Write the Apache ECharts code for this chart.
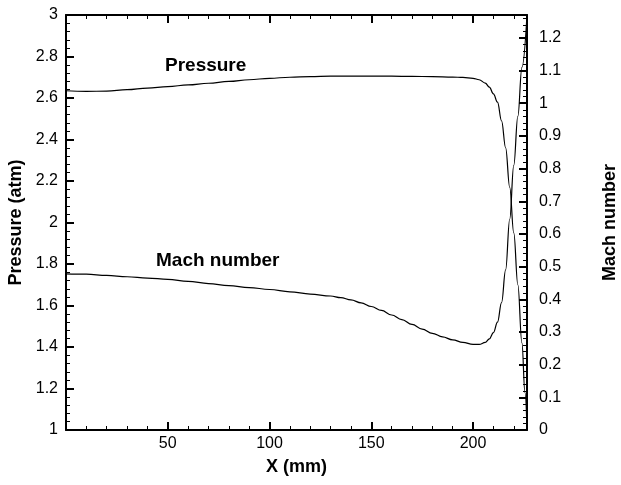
<!DOCTYPE html>
<html>
<head>
<meta charset="utf-8">
<script src="https://cdn.jsdelivr.net/npm/echarts@6/dist/echarts.min.js"></script>
<style>
html,body{margin:0;padding:0;background:#fff;}
#chart{width:621px;height:485px;}
</style>
</head>
<body>
<div id="chart"></div>
<script>
// X positions (mm)
const pressureX = [0,10,20,30,40,50,60,70,80,90,100,110,120,130,140,150,160,170,180,190,195,200,203,206,208,210,212,214,216,218,220,222,224,225.5,226.5];
const pressureY = [2.635,2.632,2.633,2.640,2.648,2.655,2.663,2.671,2.680,2.688,2.695,2.700,2.703,2.705,2.705,2.705,2.705,2.704,2.703,2.701,2.699,2.695,2.688,2.672,2.652,2.620,2.580,2.490,2.360,2.170,1.950,1.700,1.420,1.180,1.010];

const machX = [0,10,20,30,40,50,60,70,80,90,100,110,120,130,135,140,145,150,155,160,165,170,175,180,185,190,195,200,203,206,208,210,212,214,216,218,220,222,224,226.5];
const machY = [0.478,0.477,0.473,0.469,0.465,0.461,0.455,0.448,0.442,0.436,0.430,0.423,0.416,0.410,0.405,0.398,0.389,0.378,0.366,0.352,0.338,0.323,0.309,0.296,0.285,0.276,0.268,0.262,0.262,0.268,0.279,0.298,0.330,0.390,0.490,0.645,0.810,0.960,1.110,1.270];

const xRange = [0, 226.5];
const pRange = [1, 3];
const mRange = [0, 1.27];

const xTitle = 'X (mm)';
const pTitle = 'Pressure (atm)';
const mTitle = 'Mach number';
const pLabel = 'Pressure';
const mLabel = 'Mach number';

const zip = (a, b) => a.map((v, i) => [v, b[i]]);

const FONT = '"Liberation Sans", Arial, sans-serif';
const axisCommon = {
  axisLine: {show: true, onZero: false, lineStyle: {color: '#000', width: 2}},
  axisTick: {show: true, inside: true, length: 8, lineStyle: {color: '#000', width: 2}},
  minorTick: {show: true, splitNumber: 5, length: 4, lineStyle: {color: '#000', width: 1}},
  splitLine: {show: false},
  axisLabel: {color: '#000', fontSize: 16, fontFamily: FONT, showMinLabel: true, showMaxLabel: true},
  nameTextStyle: {color: '#000', fontSize: 18, fontWeight: 'bold', fontFamily: FONT}
};

const chart = echarts.init(document.getElementById('chart'), null, {renderer: 'canvas'});
chart.setOption({
  backgroundColor: '#fff',
  animation: false,
  grid: {left: 66, right: 94, top: 15, bottom: 55, containLabel: false, outerBoundsMode: 'none'},
  xAxis: [
    Object.assign({}, axisCommon, {
      type: 'value', position: 'bottom', min: xRange[0], max: xRange[1], interval: 50,
      name: xTitle, nameLocation: 'middle', nameGap: 28,
      axisLabel: Object.assign({}, axisCommon.axisLabel, {margin: 6, showMinLabel: false, showMaxLabel: false})
    }),
    Object.assign({}, axisCommon, {
      type: 'value', position: 'top', min: xRange[0], max: xRange[1], interval: 50,
      axisLabel: {show: false}
    })
  ],
  yAxis: [
    Object.assign({}, axisCommon, {
      type: 'value', position: 'left', min: pRange[0], max: pRange[1], interval: 0.2,
      name: pTitle, nameLocation: 'middle', nameGap: 39, nameRotate: 90,
      axisLabel: Object.assign({}, axisCommon.axisLabel, {margin: 8, formatter: v => String(+v.toFixed(1))})
    }),
    Object.assign({}, axisCommon, {
      type: 'value', position: 'right', min: mRange[0], max: mRange[1], interval: 0.1,
      name: mTitle, nameLocation: 'middle', nameGap: 74, nameRotate: 90,
      axisLabel: Object.assign({}, axisCommon.axisLabel, {margin: 12, showMaxLabel: false, formatter: v => String(+v.toFixed(1))})
    })
  ],
  series: [
    {
      type: 'line', name: pLabel, xAxisIndex: 0, yAxisIndex: 0,
      data: zip(pressureX, pressureY), showSymbol: false, smooth: 0.4, smoothMonotone: 'x',
      lineStyle: {color: '#000', width: 1.2}, clip: true
    },
    {
      type: 'line', name: mLabel, xAxisIndex: 0, yAxisIndex: 1,
      data: zip(machX, machY), showSymbol: false, smooth: 0.4, smoothMonotone: 'x',
      lineStyle: {color: '#000', width: 1.2}, clip: true
    }
  ],
  graphic: [
    {type: 'text', left: 165, top: 56, style: {text: pLabel, fill: '#000', font: 'bold 19px ' + FONT}},
    {type: 'text', left: 156, top: 251, style: {text: mLabel, fill: '#000', font: 'bold 19px ' + FONT}}
  ]
});
</script>
</body>
</html>
